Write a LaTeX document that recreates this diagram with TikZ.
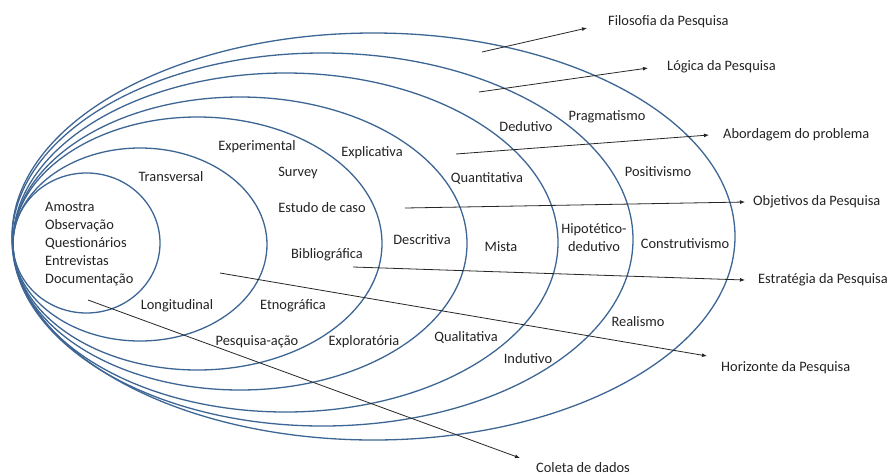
\documentclass[tikz,border=0pt]{standalone}
\usepackage{fontspec}
\setmainfont{Carlito}
\usetikzlibrary{arrows.meta}
\definecolor{ringblue}{RGB}{62,102,148}
\definecolor{txtgray}{RGB}{35,35,35}
\tikzset{
  ring/.style={draw=ringblue, line width=1.3pt},
  lbl/.style={font=\fontsize{14.4}{16}\selectfont, text=txtgray, inner sep=1pt},
  pointer/.style={draw=black!85, line width=0.8pt, -{Latex[length=5pt,width=4pt]}},
}
\begin{document}
\begin{tikzpicture}[x=1pt,y=-1pt]
\path[use as bounding box] (0,0) rectangle (892,475);
\fill[white] (0,0) rectangle (892,475);
% rings
\draw[ring] (86.5,243) ellipse [x radius=73.5pt, y radius=70pt];
\draw[ring] (140,244.5) ellipse [x radius=127pt, y radius=96.5pt];
\draw[ring] (197.5,243.5) ellipse [x radius=184.5pt, y radius=126.5pt];
\draw[ring] (240,243.5) ellipse [x radius=227pt, y radius=146.5pt];
\draw[ring] (285.5,242.5) ellipse [x radius=272.5pt, y radius=169.5pt];
\draw[ring] (322.5,239.5) ellipse [x radius=310.5pt, y radius=186.5pt];
\draw[ring] (373.5,236.5) ellipse [x radius=361.5pt, y radius=203.5pt];
% inner texts
\node[lbl, anchor=north west, align=left, font=\fontsize{14.4}{18}\selectfont] (coleta) at (44,201) {Amostra\\Observação\\Questionários\\Entrevistas\\Documentação};
\node[lbl] (transv) at (171,177) {Transversal};
\node[lbl] (longit) at (177,306) {Longitudinal};
\node[lbl] (exper) at (257,147) {Experimental};
\node[lbl] (survey) at (298,173) {Survey};
\node[lbl] (estudo) at (322,208) {Estudo de caso};
\node[lbl] (biblio) at (327,255) {Bibliográfica};
\node[lbl] (etno) at (293,306) {Etnográfica};
\node[lbl] (pacao) at (257,342) {Pesquisa-ação};
\node[lbl] (explic) at (372,153) {Explicativa};
\node[lbl] (descr) at (422,240) {Descritiva};
\node[lbl] (explor) at (364,342) {Exploratória};
\node[lbl] (quanti) at (487,178) {Quantitativa};
\node[lbl] (mista) at (501,247) {Mista};
\node[lbl] (quali) at (466,337) {Qualitativa};
\node[lbl] (dedut) at (526,127) {Dedutivo};
\node[lbl, align=center, font=\fontsize{14.4}{18}\selectfont] (hipot) at (594,238) {Hipotético-\\dedutivo};
\node[lbl] (indut) at (528,359) {Indutivo};
\node[lbl] (pragm) at (607,117) {Pragmatismo};
\node[lbl] (posit) at (658,172) {Positivismo};
\node[lbl] (constr) at (685,244) {Construtivismo};
\node[lbl] (realis) at (638,322) {Realismo};
% outer labels
\node[lbl, anchor=west] (tfilo) at (607,22) {Filosofia da Pesquisa};
\node[lbl, anchor=west] (tlogi) at (666,67) {Lógica da Pesquisa};
\node[lbl, anchor=west] (tabor) at (722,135) {Abordagem do problema};
\node[lbl, anchor=west] (tobje) at (752,202) {Objetivos da Pesquisa};
\node[lbl, anchor=west] (testr) at (757,280) {Estratégia da Pesquisa};
\node[lbl, anchor=west] (thori) at (720,368) {Horizonte da Pesquisa};
\node[lbl, anchor=west] (tcole) at (535,468) {Coleta de dados};
% pointer coordinates
\coordinate (s1) at (482,52);  \coordinate (e1) at (587,28);
\coordinate (s2) at (479,92);  \coordinate (e2) at (648,68);
\coordinate (s3) at (456,154); \coordinate (e3) at (709,135);
\coordinate (s4) at (405,208); \coordinate (e4) at (745,202);
\coordinate (s5) at (353,267); \coordinate (e5) at (745,280);
\coordinate (s6) at (220,273); \coordinate (e6) at (707,356);
\coordinate (s7) at (88,300);  \coordinate (e7) at (520,458);
\draw[pointer] (s1) -- (e1);
\draw[pointer] (s2) -- (e2);
\draw[pointer] (s3) -- (e3);
\draw[pointer] (s4) -- (e4);
\draw[pointer] (s5) -- (e5);
\draw[pointer] (s6) -- (e6);
\draw[pointer] (s7) -- (e7);
\end{tikzpicture}
\end{document}
